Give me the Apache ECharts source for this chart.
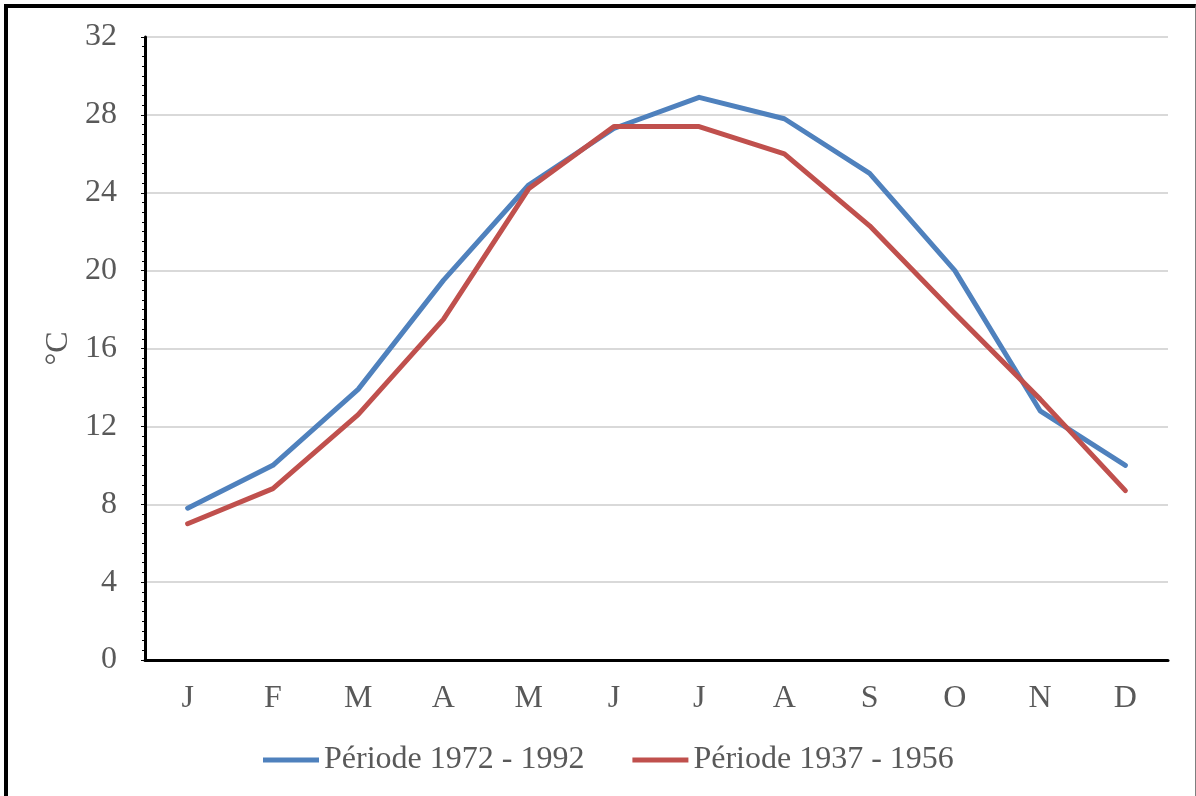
<!DOCTYPE html>
<html lang="fr">
<head>
  <meta charset="UTF-8">
  <title>Températures moyennes mensuelles</title>
  <script src="https://cdn.jsdelivr.net/npm/echarts@6/dist/echarts.min.js"></script>
  <style>
    html, body { margin: 0; padding: 0; height: 100%; background: #fff; }
    #chart { position: absolute; left: 0; top: 0; width: 1196px; height: 796px; }
    #frame {
      position: absolute; left: 4px; top: 4px; width: 1187px; height: 800px;
      border-left: 4px solid #000; border-top: 4px solid #000; border-right: 1px solid #7f7f7f;
      pointer-events: none;
    }
  </style>
</head>
<body>
  <div id="chart"></div>
  <div id="frame"></div>
  <script>
    const months = ['J', 'F', 'M', 'A', 'M', 'J', 'J', 'A', 'S', 'O', 'N', 'D'];
    const periode1972 = [7.8, 10.0, 13.9, 19.5, 24.4, 27.3, 28.9, 27.8, 25.0, 20.0, 12.8, 10.0];
    const periode1937 = [7.0, 8.8, 12.6, 17.5, 24.2, 27.4, 27.4, 26.0, 22.3, 17.8, 13.4, 8.7];

    const font = '"Liberation Serif", "Times New Roman", serif';
    let chart = echarts.init(document.getElementById('chart'));

    const option = {
      animation: false,
      grid: { left: 145, right: 28, top: 37, bottom: 136 },
      legend: {
        bottom: 15,
        left: 258,
        icon: 'rect',
        itemWidth: 56,
        itemHeight: 5,
        itemGap: 48,
        textStyle: { fontFamily: font, fontSize: 32, color: '#595959' },
        data: ['Période 1972 - 1992', 'Période 1937 - 1956']
      },
      xAxis: {
        type: 'category',
        data: months,
        boundaryGap: true,
        axisLine: { lineStyle: { color: '#000', width: 3 } },
        axisTick: { show: false },
        axisLabel: { fontFamily: font, fontSize: 32, color: '#595959', margin: 23 }
      },
      yAxis: {
        type: 'value',
        min: 0,
        max: 32,
        interval: 4,
        name: '°C',
        nameLocation: 'middle',
        nameGap: 70,
        nameTextStyle: { fontFamily: font, fontSize: 32, color: '#595959' },
        axisLine: { show: true, lineStyle: { color: '#000', width: 3 } },
        axisTick: { show: true, length: 4, lineStyle: { color: '#000' } },
        minorTick: { show: true, splitNumber: 8, length: 3, lineStyle: { color: '#000' } },
        splitLine: { lineStyle: { color: '#d9d9d9', width: 2 } },
        axisLabel: { fontFamily: font, fontSize: 32, color: '#595959', margin: 28 }
      },
      series: [
        {
          name: 'Période 1972 - 1992',
          type: 'line',
          data: periode1972,
          symbol: 'none',
          lineStyle: { color: '#4f81bd', width: 5, cap: 'round', join: 'round' },
          itemStyle: { color: '#4f81bd' },
          z: 3
        },
        {
          name: 'Période 1937 - 1956',
          type: 'line',
          data: periode1937,
          symbol: 'none',
          lineStyle: { color: '#c0504d', width: 5, cap: 'round', join: 'round' },
          itemStyle: { color: '#c0504d' },
          z: 4
        }
      ]
    };

    chart.setOption(option);
  </script>
</body>
</html>
